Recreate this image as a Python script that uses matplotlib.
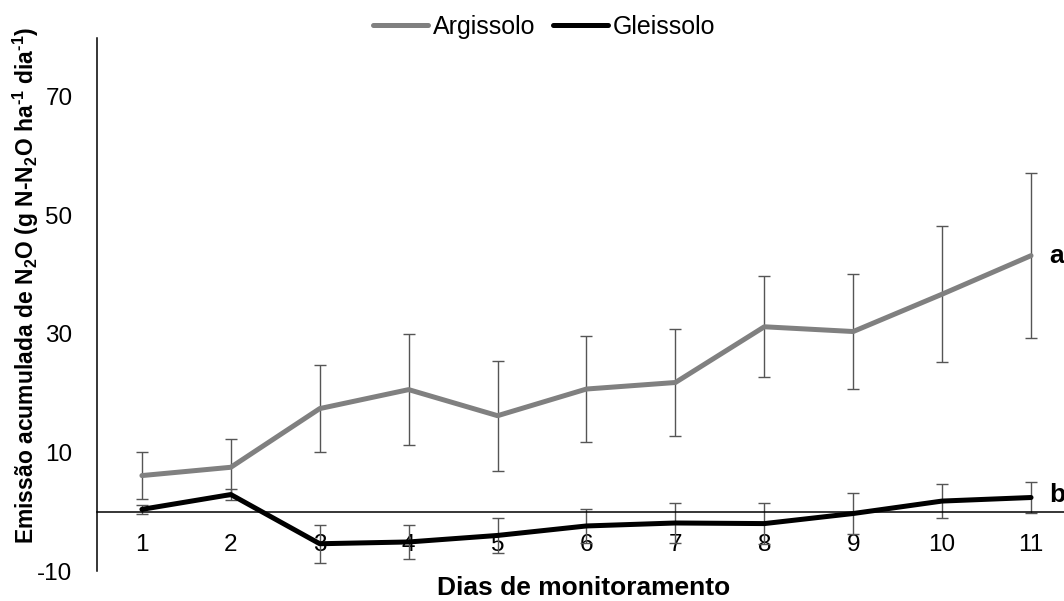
import numpy as np
import matplotlib
matplotlib.use('Agg')
from matplotlib import pyplot as plt

plt.rcParams['font.family'] = ['Liberation Sans', 'DejaVu Sans']
plt.rcParams['mathtext.fontset'] = 'custom'
plt.rcParams['mathtext.rm'] = 'Liberation Sans:bold'
plt.rcParams['mathtext.default'] = 'rm'

# values
dias = [1, 2, 3, 4, 5, 6, 7, 8, 9, 10, 11]
argissolo = [6.1, 7.5, 17.4, 20.6, 16.2, 20.7, 21.8, 31.2, 30.4, 36.7, 43.2]
argissolo_err = [3.9, 4.8, 7.3, 9.3, 9.3, 8.9, 9.1, 8.5, 9.7, 11.5, 13.9]
gleissolo = [0.4, 2.9, -5.4, -5.1, -4.0, -2.4, -1.9, -2.0, -0.3, 1.8, 2.4]
gleissolo_err = [0.7, 0.9, 3.2, 2.8, 2.9, 2.9, 3.3, 3.4, 3.5, 2.8, 2.6]
y_ticks = [-10, 10, 30, 50, 70]
y_ticklabels = ['-10', '10', '30', '50', '70']

fig = plt.figure(figsize=(10.64, 6.01), dpi=100)
ax = fig.add_axes([0.0916, 0.0499, 0.9192, 0.8877])

#the x axis crosses at zero (set first, it resets the ticks)
for s in ['top', 'right']:
    ax.spines[s].set_visible(False)
ax.spines['bottom'].set_position(('data', 0))
ax.spines['bottom'].set_linewidth(1.1)
ax.spines['left'].set_linewidth(1.1)

#error bars first, lines on top
ax.errorbar(dias, argissolo, yerr=argissolo_err, fmt='none', ecolor='#555555',
            elinewidth=1, capsize=4.3, capthick=1, zorder=2)
ax.errorbar(dias, gleissolo, yerr=gleissolo_err, fmt='none', ecolor='#555555',
            elinewidth=1, capsize=4.3, capthick=1, zorder=2)
ax.plot(dias, argissolo, color='#808080', lw=3.6, solid_capstyle='round',
        solid_joinstyle='round', label='Argissolo', zorder=3)
ax.plot(dias, gleissolo, color='black', lw=3.6, solid_capstyle='round',
        solid_joinstyle='round', label='Gleissolo', zorder=4)

# letters of significance at the end of each line
ax.text(11.2, argissolo[-1], 'a', fontsize=19, fontweight='bold', va='center', ha='left', clip_on=False)
ax.text(11.2, gleissolo[-1] + 0.5, 'b', fontsize=19, fontweight='bold', va='center', ha='left', clip_on=False)

ax.set_xlim(0.5, 11.5)
ax.set_ylim(-10, 80)
ax.set_xticks(dias)
ax.set_xticklabels([str(d) for d in dias])
ax.set_yticks(y_ticks)
ax.set_yticklabels(y_ticklabels)
ax.tick_params(axis='x', length=0, pad=16, labelsize=17.5)
ax.tick_params(axis='y', length=0, pad=18, labelsize=17.5)

fig.text(0.5489, 1 - 588 / 601, 'Dias de monitoramento', fontsize=19, fontweight='bold',
         ha='center', va='center')
fig.text(26 / 1064, 1 - 285.5 / 601,
         r'Emissão acumulada de N$_2$O (g N-N$_2$O ha$^{\text{-1}}$ dia$^{\text{-1}}$)',
         fontsize=16.5, fontweight='bold', rotation=90, ha='center', va='center')

fig.legend(loc='center', bbox_to_anchor=(544 / 1064, 1 - 27 / 601), ncol=2, frameon=False,
           fontsize=18, handlelength=2.2, handletextpad=0.2, columnspacing=0.7)

plt.savefig('out.png', dpi=100)
